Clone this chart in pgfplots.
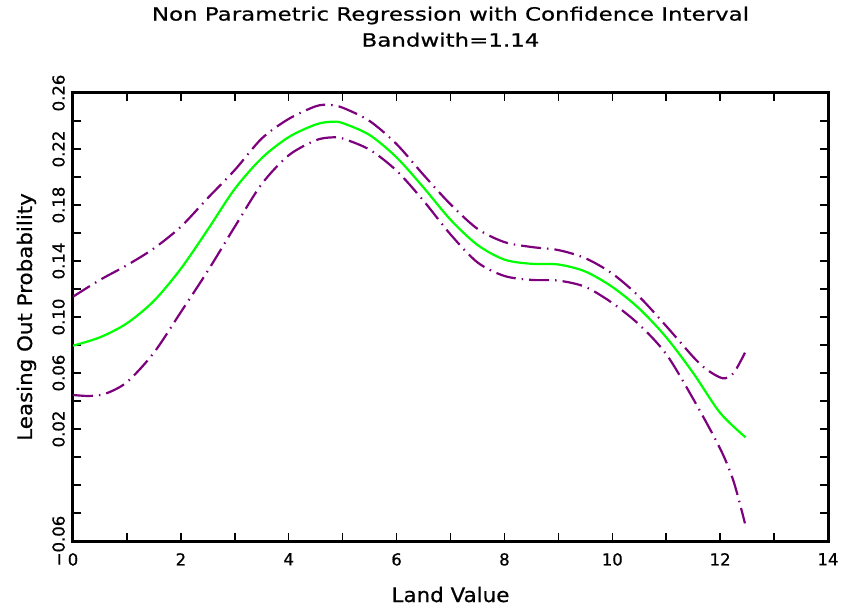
\documentclass[border=0pt]{standalone}
\usepackage{fontspec}
\usepackage{pgfplots}
\pgfplotsset{compat=1.18}
\newfontfamily\tickfont[FakeBold=0.8]{DejaVu Sans}
\newfontfamily\labfont[FakeStretch=1.07,FakeBold=0.6]{DejaVu Sans}
\newfontfamily\ttlfont[FakeStretch=1.26,FakeBold=0.6]{DejaVu Sans}
\definecolor{bandpurple}{RGB}{125,0,125}
\definecolor{fitgreen}{RGB}{0,255,0}

\begin{document}
\begin{tikzpicture}
% page = 844 x 611 bp, axis box lower-left at the origin
\path[use as bounding box] (-73bp,-70bp) rectangle (771bp,541bp);
\begin{axis}[
    scale only axis,
    width=755bp, height=448bp,
    xmin=0, xmax=14,
    ymin=-0.06, ymax=0.26,
    xtick={0,2,...,14},
    xticklabels={0,2,4,6,8,10,12,14},
    minor xtick={1,3,...,13},
    ytick={-0.06,0.02,0.06,0.10,0.14,0.18,0.22,0.26},
    yticklabels={−0.06,0.02,0.06,0.10,0.14,0.18,0.22,0.26},
    minor ytick={-0.04,-0.02,0,0.04,0.08,0.12,0.16,0.20,0.24},
    tick pos=both,
    tick align=inside,
    major tick length=8bp, minor tick length=8bp,
    tick style={line width=1.5bp, black},
    axis line style={line width=3bp, line cap=rect},
    tick label style={font=\tickfont\fontsize{16.5bp}{20bp}\selectfont, inner sep=0pt},
    xticklabel style={anchor=north},
    xticklabel shift=12bp,
    yticklabel style={rotate=90, anchor=south},
    yticklabel shift=8bp,
    title={Non Parametric Regression with Confidence Interval\\Bandwith=1.14},
    title style={font={\ttlfont\fontsize{18.2bp}{26bp}\selectfont}, align=center,
        inner sep=0pt, at={([yshift=80.5bp]axis description cs:0.5,1)}, anchor=north},
    xlabel={Land Value},
    xlabel style={font={\labfont\fontsize{20bp}{24bp}\selectfont}, inner sep=0pt,
        at={([yshift=-61bp]axis description cs:0.5,0)}, anchor=base},
    ylabel={Leasing Out Probability},
    ylabel style={font={\labfont\fontsize{20bp}{24bp}\selectfont}, inner sep=0pt,
        at={([xshift=-41bp]axis description cs:0,0.5)}, anchor=base},
    band/.style={bandpurple, line width=2.2bp, smooth,
        dash pattern=on 20bp off 6bp on 1.5bp off 6bp},
]
% upper bound
\addplot[band] coordinates {
 (0.0,0.1145) (0.5,0.1265) (1.0,0.137) (1.5,0.149) (2.0,0.1645)
 (2.5,0.185) (3.0,0.205) (3.5,0.2275) (4.0,0.2415) (4.5,0.2505)
 (4.75,0.2515) (5.0,0.2495) (5.5,0.240) (6.0,0.2235) (6.5,0.2015)
 (7.0,0.1805) (7.5,0.163) (8.0,0.1535) (8.5,0.150) (9.0,0.1478)
 (9.5,0.142) (10.0,0.131) (10.5,0.1145) (11.0,0.0935) (11.5,0.0715)
 (11.75,0.0625) (12.05,0.0562) (12.25,0.060) (12.46,0.0745)
};
% lower bound
\addplot[band] coordinates {
 (0.0,0.0443) (0.3,0.0436) (0.6,0.0452) (1.0,0.0535) (1.5,0.0745)
 (2.0,0.1035) (2.5,0.133) (3.0,0.1645) (3.5,0.195) (4.0,0.2155)
 (4.5,0.2262) (4.8,0.2283) (5.0,0.2275) (5.5,0.2195) (6.0,0.2045)
 (6.5,0.183) (7.0,0.159) (7.5,0.139) (8.0,0.1293) (8.5,0.1265)
 (9.0,0.126) (9.5,0.1215) (10.0,0.110) (10.5,0.0945) (11.0,0.0735)
 (11.5,0.0415) (12.0,0.006) (12.25,-0.0175) (12.46,-0.0474)
};
% regression estimate
\addplot[fitgreen, line width=2.2bp, smooth] coordinates {
 (0.0,0.0795) (0.5,0.0855) (1.0,0.0955) (1.5,0.1115) (2.0,0.1345)
 (2.5,0.1625) (3.0,0.1915) (3.5,0.2135) (4.0,0.2285) (4.5,0.2375)
 (4.8,0.2395) (5.0,0.2385) (5.5,0.230) (6.0,0.214) (6.5,0.1925)
 (7.0,0.1695) (7.5,0.1515) (8.0,0.141) (8.5,0.138) (9.0,0.1375)
 (9.5,0.1325) (10.0,0.1215) (10.5,0.106) (11.0,0.0855) (11.5,0.060)
 (12.0,0.0315) (12.47,0.0141)
};
\end{axis}
\end{tikzpicture}
\end{document}
